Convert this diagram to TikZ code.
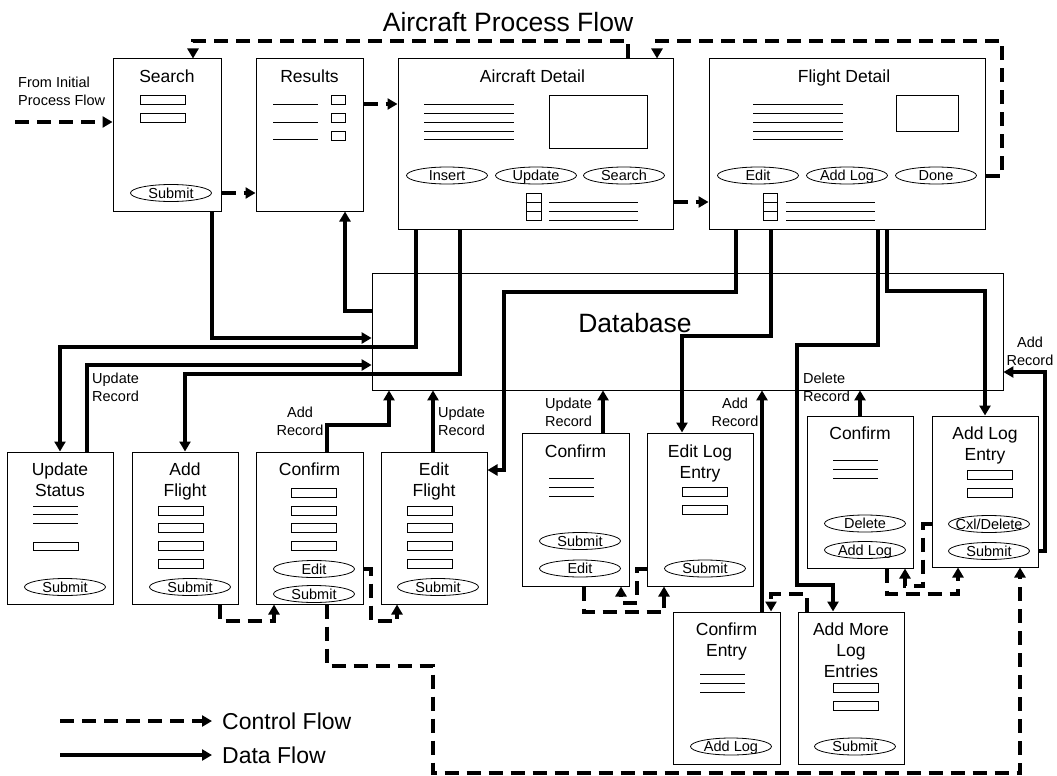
\documentclass[tikz,border=0pt]{standalone}
\usepackage{fontspec}
\setmainfont{Liberation Sans}
\usetikzlibrary{arrows.meta,positioning,shapes.geometric}

\newcommand{\hdfont}{\fontsize{26.5}{30}\selectfont}
\newcommand{\ttlfont}{\fontsize{17.5}{21}\selectfont}
\newcommand{\btnfont}{\fontsize{14.5}{17}\selectfont}
\newcommand{\lblfont}{\fontsize{14.5}{18}\selectfont}
\newcommand{\legfont}{\fontsize{23}{26}\selectfont}

\tikzset{
	page/.style={ draw, line width=1pt, minimum width=106pt, minimum height=152pt, inner sep=0pt },
	ttl/.style={ font=\ttlfont, align=center, inner sep=0pt },
	btn/.style={ draw, ellipse, line width=0.8pt, minimum width=81pt, minimum height=17pt, inner sep=0pt,
		label={[font=\btnfont, inner sep=0pt, text height=10.5pt, text depth=0pt]center:#1} },
	lbl/.style={ font=\lblfont, inner sep=0pt },
	ln/.style={ line width=0.8pt },
	ctrl/.style={ line width=4pt, dash pattern=on 14pt off 8pt, -{Triangle[length=10pt,width=11pt]} },
	data/.style={ line width=4pt, -{Triangle[length=10pt,width=11pt]} }
}

\begin{document}
\begin{tikzpicture}[x=1pt, y=-1pt]

\path[use as bounding box, fill=white] (0,0) rectangle (1057,776);

\node[font=\hdfont, anchor=base] (hd) at (508,32) {Aircraft Process Flow};

% pages, top row
\node[page, minimum width=108pt] (search) at (167,135) {};
\node[page, minimum width=107pt] (results) at (309.5,135) {};
\node[page, minimum width=275pt, minimum height=170pt] (aircraft) at (535.5,144) {};
\node[page, minimum width=276pt, minimum height=170pt] (flight) at (847,144) {};

\node[ttl, below=11pt of search.north] (tsearch) {Search};
\node[ttl, below=11pt of results.north] (tresults) {Results};
\node[ttl, below=11pt of aircraft.north, xshift=-3pt] (taircraft) {Aircraft Detail};
\node[ttl, below=11pt of flight.north, xshift=-3pt] (tflight) {Flight Detail};

% database
\node[draw, ln, minimum width=631pt, minimum height=117pt, inner sep=0pt] (db) at (687.5,331.5) {};
\node[font=\hdfont, inner sep=0pt] (dbname) at (635,323) {Database};

% pages, lower rows
\node[page] (updstatus) at (60,528) {};
\node[page] (addflight) at (185,528) {};
\node[page, minimum width=107pt] (confirmL) at (309.5,528) {};
\node[page] (editflight) at (434,528) {};
\node[page, minimum width=107pt, minimum height=153pt] (confirmM) at (575.5,509.5) {};
\node[page, minimum height=153pt] (editlog) at (700,509.5) {};
\node[page] (confirmR) at (860,492) {};
\node[page, minimum height=151pt] (addlog) at (985,491.5) {};
\node[page, minimum width=107pt] (confentry) at (726.5,688) {};
\node[page] (addmore) at (851,688) {};

\node[ttl, below=11pt of updstatus.north] (tupd) {Update\\Status};
\node[ttl, below=11pt of addflight.north] (tadd) {Add\\Flight};
\node[ttl, below=11pt of confirmL.north] (tconfL) {Confirm};
\node[ttl, below=11pt of editflight.north] (tedit) {Edit\\Flight};
\node[ttl, below=12pt of confirmM.north] (tconfM) {Confirm};
\node[ttl, below=12pt of editlog.north] (teditlog) {Edit Log\\Entry};
\node[ttl, below=11pt of confirmR.north] (tconfR) {Confirm};
\node[ttl, below=11pt of addlog.north] (taddlog) {Add Log\\Entry};
\node[ttl, below=11pt of confentry.north] (tconfE) {Confirm\\Entry};
\node[ttl, below=11pt of addmore.north] (tmore) {Add More\\Log\\Entries};

% buttons
\node[btn=Submit] (sSub) at (171,193) {};
\node[btn=Insert] (aIns) at (447,175.5) {};
\node[btn=Update] (aUpd) at (536,175.5) {};
\node[btn=Search] (aSrch) at (624,175.5) {};
\node[btn=Edit] (fEdit) at (758,175.5) {};
\node[btn=Add Log] (fAdd) at (847,175.5) {};
\node[btn=Done] (fDone) at (936,175.5) {};
\node[btn=Submit] (uSub) at (65,587) {};
\node[btn=Submit] (afSub) at (190,587) {};
\node[btn=Edit] (cLEdit) at (314,569) {};
\node[btn=Submit] (cLSub) at (314,594) {};
\node[btn=Submit] (efSub) at (438,587) {};
\node[btn=Submit] (cMSub) at (580,541) {};
\node[btn=Edit] (cMEdit) at (580,568.5) {};
\node[btn=Submit] (elSub) at (705,568.5) {};
\node[btn=Delete] (cRDel) at (865,523.5) {};
\node[btn=Add Log] (cRAdd) at (865,550) {};
\node[btn=Cxl/Delete] (alCxl) at (989,524) {};
\node[btn=Submit] (alSub) at (989,551) {};
\node[btn=Add Log] (cEAdd) at (731,746.5) {};
\node[btn=Submit] (amSub) at (855,746.5) {};

% fields and text lines
\foreach \y in {95,113} \draw[ln] (140,\y) rectangle ++(45,9);
\foreach \y in {104,122,139} \draw[ln] (273,\y) -- ++(45,0);
\foreach \y in {95,113,131} \draw[ln] (331,\y) rectangle ++(14,9);
\foreach \y in {104,113,122,131,139} \draw[ln] (424,\y) -- ++(90,0);
\draw[ln] (549,95) rectangle (647,148);
\draw[ln] (526,193) rectangle (541,220) (526,202) -- (541,202) (526,211) -- (541,211);
\foreach \y in {202,211,220} \draw[ln] (549,\y) -- ++(89,0);
\foreach \y in {104,113,122,131,139} \draw[ln] (753,\y) -- ++(90,0);
\draw[ln] (896,95) rectangle (958,131);
\draw[ln] (763,193) rectangle (777,220) (763,202) -- (777,202) (763,211) -- (777,211);
\foreach \y in {202,211,220} \draw[ln] (786,\y) -- ++(89,0);
\foreach \y in {506,514,523} \draw[ln] (33,\y) -- ++(45,0);
\draw[ln] (33,542) rectangle ++(45,8);
\foreach \y in {506,523,541,559} \draw[ln] (158,\y) rectangle ++(45,9);
\foreach \y in {488,506,523,541} \draw[ln] (291,\y) rectangle ++(45,9);
\foreach \y in {506,523,541,559} \draw[ln] (407,\y) rectangle ++(45,9);
\foreach \y in {478,487,496} \draw[ln] (549,\y) -- ++(45,0);
\foreach \y in {487,505} \draw[ln] (682,\y) rectangle ++(45,9);
\foreach \y in {460,469,478} \draw[ln] (833,\y) -- ++(45,0);
\foreach \y in {470,488} \draw[ln] (967,\y) rectangle ++(45,9);
\foreach \y in {674,683,692} \draw[ln] (700,\y) -- ++(45,0);
\foreach \y in {683,701} \draw[ln] (833,\y) rectangle ++(45,9);

% labels
\node[lbl, anchor=north west, align=left] (lInit) at (18,77) {From Initial\\Process Flow};
\node[lbl, anchor=north west, align=left] (lUpdA) at (92,373) {Update\\Record};
\node[lbl, anchor=north, align=center] (lAddA) at (300,407) {Add\\Record};
\node[lbl, anchor=north west, align=left] (lUpdB) at (438,407) {Update\\Record};
\node[lbl, anchor=north, align=center] (lUpdC) at (568.5,398) {Update\\Record};
\node[lbl, anchor=north, align=center] (lAddB) at (735,398) {Add\\Record};
\node[lbl, anchor=north west, align=left] (lDel) at (803,373) {Delete\\Record};
\node[lbl, anchor=north, align=center] (lAddC) at (1030,337) {Add\\Record};

% control flow
\coordinate (init) at (15,122);
\draw[ctrl] (init) -- (init -| search.west);
\draw[ctrl] (search.east |- sSub) -- (results.west |- sSub);
\draw[ctrl] (results.east |- 0,104) -- (aircraft.west |- 0,104);
\draw[ctrl] (aircraft.east |- 0,202) -- (flight.west |- 0,202);
\draw[ctrl] (628,0 |- aircraft.north) |- (193,41) -- (193,0 |- search.north);
\draw[ctrl] (flight.east |- fDone) -| (1002,41) -| (657,0 |- aircraft.north);
\draw[ctrl] (220,0 |- addflight.south) |- (274,621) -- (274,0 |- confirmL.south);
\draw[ctrl] (confirmL.east |- cLEdit) -| (371,621) -| (397,0 |- editflight.south);
\draw[ctrl] (327,0 |- confirmL.south) |- (433,666) |- (1020,773) -- (1020,0 |- addlog.south);
\draw[ctrl] (584,0 |- confirmM.south) |- (664,612) -- (664,0 |- editlog.south);
\draw[ctrl] (editlog.west |- elSub) -| (637,603) -| (621,0 |- confirmM.south);
\draw[ctrl] (807,0 |- addmore.north) |- (771,594) -- (771,0 |- confentry.north);
\draw[ctrl] (887,0 |- confirmR.south) |- (958,594) -- (958,0 |- addlog.south);
\draw[ctrl] (addlog.west |- alCxl) -| (923,586) -| (905,0 |- confirmR.south);

% data flow
\draw[data] (212,0 |- search.south) |- (db.west |- 0,338);
\draw[data] (db.west |- 0,311) -| (345,0 |- results.south);
\draw[data] (416,0 |- aircraft.south) |- (updstatus.north |- 0,347) -- (updstatus.north);
\draw[data] (87,0 |- updstatus.north) |- (db.west |- 0,365);
\draw[data] (460,0 |- aircraft.south) |- (addflight.north |- 0,374) -- (addflight.north);
\draw[data] (327,0 |- confirmL.north) |- (389,425) -- (389,0 |- db.south);
\draw[data] (433,0 |- editflight.north) -- (433,0 |- db.south);
\draw[data] (736,0 |- flight.south) |- (504,292) |- (editflight.east |- 0,470);
\draw[data] (771,0 |- flight.south) |- (682,336) -- (682,0 |- editlog.north);
\draw[data] (878,0 |- flight.south) |- (797,345) |- (833,585) -- (833,0 |- addmore.north);
\draw[data] (887,0 |- flight.south) |- (addlog.north |- 0,291) -- (addlog.north);
\draw[data] (603,0 |- confirmM.north) -- (603,0 |- db.south);
\draw[data] (762,0 |- confentry.north) -- (762,0 |- db.south);
\draw[data] (confirmR.north) -- (confirmR.north |- db.south);
\draw[data] (addlog.east |- alSub) -| (1045,372) -- (db.east |- 0,372);

% legend
\coordinate (lc) at (60,721);
\coordinate (ld) at (60,755);
\node[font=\legfont, anchor=west, inner xsep=10pt, inner ysep=0pt] (legc) at (212,721) {Control Flow};
\node[font=\legfont, anchor=west, inner xsep=10pt, inner ysep=0pt] (legd) at (212,755) {Data Flow};
\draw[ctrl] (lc) -- (legc.west);
\draw[data] (ld) -- (legd.west);

\end{tikzpicture}
\end{document}
